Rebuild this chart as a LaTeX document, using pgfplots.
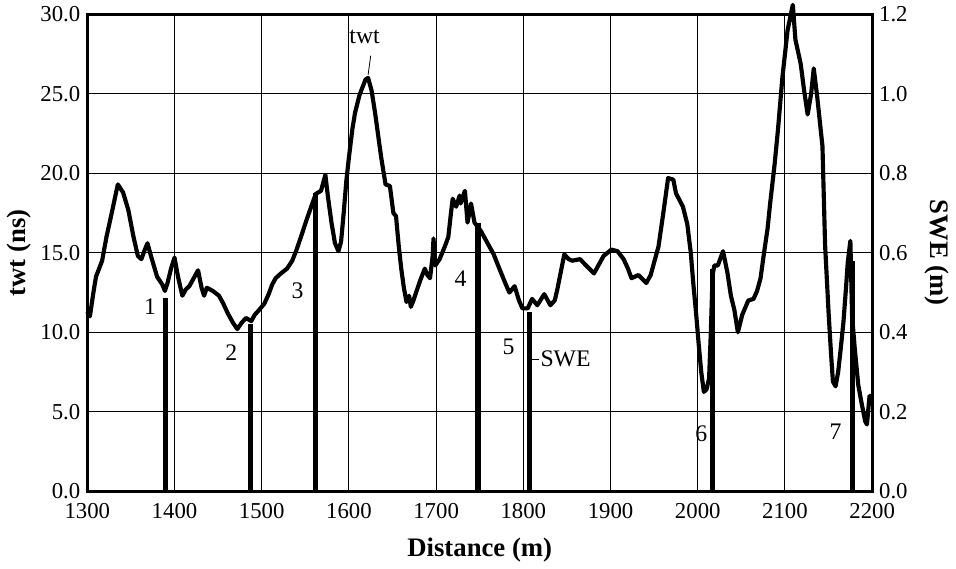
\documentclass[border=0pt]{standalone}
\usepackage{fontspec}
\setmainfont{Liberation Serif}
\usepackage{pgfplots}
\pgfplotsset{compat=1.18}

% twt profile (ns) along the line
\pgfplotstableread{
x twt
1300 11.3
1303 11.0
1307 12.5
1310 13.5
1317 14.5
1322 16.0
1328 17.5
1335 19.3
1341 18.8
1347 17.7
1353 16.0
1358 14.8
1362 14.6
1366 15.2
1369 15.6
1373 14.8
1380 13.5
1386 13.0
1389 12.6
1392 13.1
1396 14.0
1400 14.7
1404 13.5
1409 12.3
1413 12.7
1417 12.9
1422 13.4
1427 13.9
1431 12.8
1434 12.3
1437 12.8
1444 12.6
1451 12.3
1456 11.8
1461 11.2
1467 10.6
1472 10.2
1477 10.6
1482 10.9
1488 10.7
1492 11.1
1497 11.4
1503 11.8
1508 12.4
1512 13.0
1516 13.4
1522 13.7
1529 14.0
1535 14.5
1540 15.2
1545 16.0
1551 17.0
1558 18.1
1562 18.7
1568 18.9
1573 19.9
1576 18.5
1580 16.9
1584 15.6
1588 15.1
1591 15.7
1594 17.5
1597 19.5
1600 21.0
1604 22.8
1607 23.8
1612 24.9
1619 25.9
1622 26.0
1626 25.2
1630 23.8
1634 22.2
1637 21.0
1642 19.3
1647 19.2
1651 17.5
1654 17.3
1657 15.5
1660 14.0
1663 12.8
1666 11.9
1669 12.3
1671 11.6
1674 12.0
1677 12.5
1682 13.3
1687 14.0
1690 13.6
1693 13.4
1696 14.8
1697 15.9
1699 14.2
1704 14.6
1710 15.4
1714 16.0
1717 17.5
1719 18.4
1723 17.9
1727 18.6
1728 18.1
1733 18.9
1736 16.9
1740 18.1
1744 16.9
1751 16.4
1759 15.6
1766 14.9
1774 13.8
1780 13.0
1784 12.5
1790 12.9
1795 12.0
1799 11.5
1805 11.5
1810 12.1
1816 11.7
1824 12.4
1831 11.7
1836 12.0
1839 12.7
1843 13.8
1847 14.9
1852 14.6
1856 14.5
1865 14.6
1872 14.2
1881 13.7
1886 14.2
1892 14.8
1901 15.2
1908 15.1
1915 14.6
1920 14.0
1924 13.4
1932 13.6
1941 13.1
1946 13.6
1950 14.4
1955 15.4
1961 17.7
1966 19.7
1972 19.6
1975 18.75
1983 17.9
1988 16.8
1992 15.0
1995 13.0
1998 11.25
2001 9.3
2004 7.5
2007 6.25
2010 6.4
2013 7.1
2015 10.0
2017 13.6
2019 14.2
2023 14.2
2029 15.1
2034 13.75
2038 12.3
2042 11.4
2046 10.0
2051 11.1
2058 12.0
2064 12.1
2068 12.6
2072 13.4
2076 15.0
2080 16.5
2083 18.1
2088 20.5
2092 22.75
2097 26.0
2103 29.0
2106 29.8
2109 30.6
2112 28.4
2118 26.9
2122 25.2
2126 23.7
2130 25.0
2133 26.6
2137 24.8
2143 21.7
2146 15.5
2150 11.25
2153 8.5
2155 6.9
2158 6.6
2161 7.5
2164 9.0
2167 10.6
2170 12.8
2172 14.4
2175 15.75
2177 11.0
2180 9.0
2184 6.7
2188 5.5
2192 4.4
2194 4.2
2197 6.0
2200 6.0
}\twtdata

% SWE at the seven snow pits (m)
\pgfplotstableread{
x swe
1390 0.485
1487 0.42
1562 0.75
1748 0.675
1807 0.45
2017 0.56
2177 0.58
}\swedata

\tikzset{annot/.style={font=\fontsize{12}{14}\selectfont}}

\begin{document}
\begin{tikzpicture}
\pgfplotsset{
  every axis/.append style={
    width=395bp, height=240bp, scale only axis,
    xmin=1300, xmax=2200,
    major tick length=0pt,
    tick label style={font=\fontsize{11.5}{13}\selectfont},
    label style={font=\fontsize{13.5}{15}\selectfont\bfseries},
    /pgf/number format/assume math mode=true,
  },
}
\begin{axis}[
    clip=false,
    ymin=0, ymax=30,
    xtick={1300,1400,...,2200},
    ytick={0,5,...,30},
    xticklabel style={/pgf/number format/1000 sep={}, yshift=-2.5pt},
    yticklabel style={/pgf/number format/.cd, fixed, fixed zerofill, precision=1},
    grid=major,
    grid style={black, line width=0.5pt},
    axis line style={line width=1.5pt},
    xlabel={Distance (m)},
    ylabel={twt (ns)},
    ylabel style={yshift=-2pt},
    xlabel style={yshift=-3pt},
]
\addplot[black, line width=2.1pt, line join=round] table[x=x, y=twt] {\twtdata};
\node[annot] at (axis cs:1618,28.6) {twt};
\draw[line width=0.4pt] (axis cs:1625,27.4) -- (axis cs:1622,26.2);
\node[annot] at (axis cs:1372,11.6) {1};
\node[annot] at (axis cs:1465,8.7) {2};
\node[annot] at (axis cs:1541,12.6) {3};
\node[annot] at (axis cs:1728,13.4) {4};
\node[annot] at (axis cs:1783,9.1) {5};
\node[annot] at (axis cs:2004,3.6) {6};
\node[annot] at (axis cs:2158,3.75) {7};
\draw[line width=0.5pt] (axis cs:1810,8.3) -- (axis cs:1818,8.3);
\node[annot, anchor=west, inner sep=1pt] at (axis cs:1817,8.3) {SWE};
\end{axis}
\begin{axis}[
    axis y line*=right,
    axis x line=none,
    ymin=0, ymax=1.2,
    ytick={0,0.2,...,1.2},
    yticklabel style={/pgf/number format/.cd, fixed, fixed zerofill, precision=1},
    axis line style={line width=1.5pt},
    ylabel={SWE (m)},
    ylabel style={rotate=180, yshift=2pt},
]
\addplot[ycomb, black, line width=2.6pt] table[x=x, y=swe] {\swedata};
\end{axis}
\end{tikzpicture}
\end{document}
